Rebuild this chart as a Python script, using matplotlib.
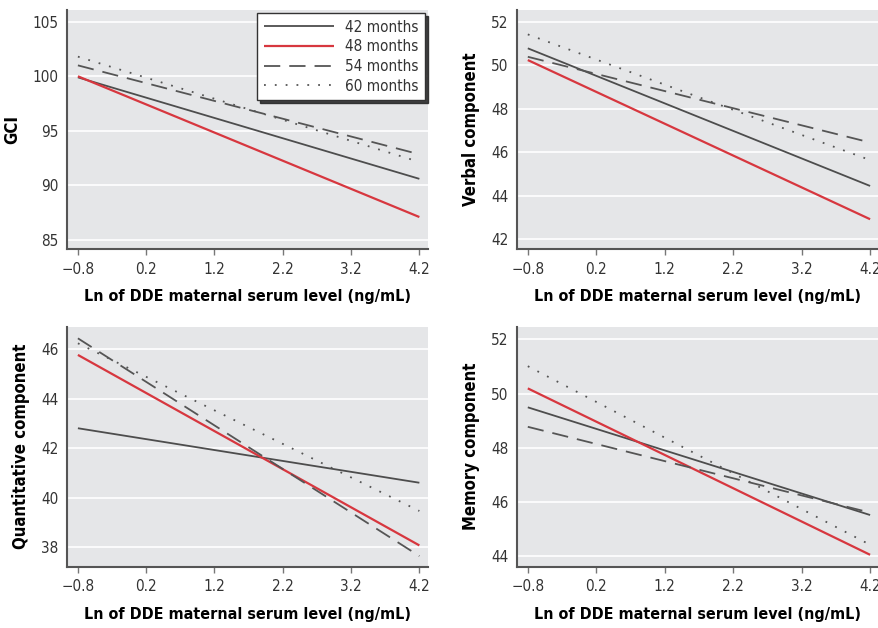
import matplotlib
matplotlib.use("Agg")
import matplotlib.pyplot as plt

plt.rcParams["font.family"] = ["DejaVu Sans"]
plt.rcParams["font.stretch"] = "condensed"

# x-Achse (Endpunkte der Regressionsgeraden)
x_vals = [-0.8, 4.2]
x_ticks = [-0.8, 0.2, 1.2, 2.2, 3.2, 4.2]
x_ticklabels = ["\u22120.8", "0.2", "1.2", "2.2", "3.2", "4.2"]
x_label = "Ln of DDE maternal serum level (ng/mL)"

series_names = ["42 months", "48 months", "54 months", "60 months"]

# GCI
gci_42 = [99.9, 90.6]
gci_48 = [100.0, 87.1]
gci_54 = [101.0, 92.85]
gci_60 = [101.8, 92.15]
gci_ticks = [85, 90, 95, 100, 105]

# Verbal
verbal_42 = [50.78, 44.45]
verbal_48 = [50.24, 42.92]
verbal_54 = [50.39, 46.45]
verbal_60 = [51.42, 45.64]
verbal_ticks = [42, 44, 46, 48, 50, 52]

# Quantitative
quant_42 = [42.81, 40.61]
quant_48 = [45.77, 38.08]
quant_54 = [46.44, 37.65]
quant_60 = [46.24, 39.47]
quant_ticks = [38, 40, 42, 44, 46]

# Memory
memory_42 = [49.49, 45.51]
memory_48 = [50.19, 44.04]
memory_54 = [48.77, 45.6]
memory_60 = [51.01, 44.41]
memory_ticks = [44, 46, 48, 50, 52]

styles = [
    dict(color="#4d4d4d", lw=1.3, ls="-"),
    dict(color="#d7373f", lw=1.6, ls="-"),
    dict(color="#555555", lw=1.3, ls=(0, (9, 5))),
    dict(color="#555555", lw=1.3, ls=(0, (1, 5))),
]

fig = plt.figure(figsize=(8.79, 6.28), dpi=100)

panels = [
    ([0.0762, 0.6035, 0.411, 0.3805], "GCI", [gci_42, gci_48, gci_54, gci_60], gci_ticks, (84.17, 106.07)),
    ([0.588, 0.6035, 0.412, 0.3805], "Verbal component", [verbal_42, verbal_48, verbal_54, verbal_60], verbal_ticks, (41.55, 52.54)),
    ([0.0762, 0.0976, 0.411, 0.3822], "Quantitative component", [quant_42, quant_48, quant_54, quant_60], quant_ticks, (37.22, 46.91)),
    ([0.588, 0.0976, 0.412, 0.3822], "Memory component", [memory_42, memory_48, memory_54, memory_60], memory_ticks, (43.6, 52.47)),
]

for i, (pos, ylabel, data, yticks, ylim) in enumerate(panels):
    ax = fig.add_axes(pos)
    ax.set_facecolor("#e5e6e8")
    for name, vals, st in zip(series_names, data, styles):
        ax.plot(x_vals, vals, label=name, solid_capstyle="butt", **st)
    ax.set_xlim(-0.96, 4.33)
    ax.set_ylim(*ylim)
    ax.set_xticks(x_ticks)
    ax.set_xticklabels(x_ticklabels)
    ax.set_yticks(yticks)
    ax.grid(axis="y", color="white", lw=1.2)
    ax.set_axisbelow(True)
    for side in ["top", "right"]:
        ax.spines[side].set_visible(False)
    for side in ["left", "bottom"]:
        ax.spines[side].set_color("#555555")
        ax.spines[side].set_linewidth(1.5)
    ax.tick_params(axis="x", direction="out", length=4, width=1, color="#777777",
                   labelsize=11, labelcolor="#333333", pad=5)
    ax.tick_params(axis="y", length=0, labelsize=11, labelcolor="#333333", pad=6)
    ax.set_xlabel(x_label, fontsize=11.5, fontweight="bold", labelpad=9)
    ax.set_ylabel(ylabel, fontsize=12, fontweight="bold", labelpad=8)
    if i == 0:
        leg = ax.legend(loc="upper right", bbox_to_anchor=(0.992, 0.988), borderaxespad=0,
                        fontsize=11, frameon=True, fancybox=False,
                        shadow={"color": "#222222", "alpha": 0.85},
                        handlelength=4.6, borderpad=0.45, labelspacing=0.3,
                        handletextpad=0.7, framealpha=1)
        leg.get_frame().set_edgecolor("#333333")
        leg.get_frame().set_linewidth(1.0)
        for t in leg.get_texts():
            t.set_color("#333333")

fig.savefig("out.png", dpi=100)
